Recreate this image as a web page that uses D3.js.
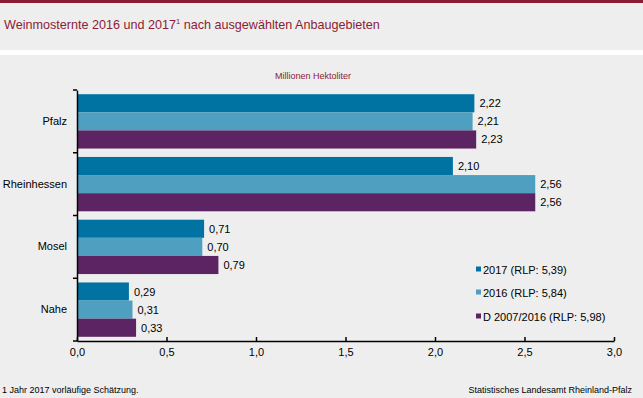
<!DOCTYPE html>
<html><head><meta charset="utf-8">
<script src="https://cdn.jsdelivr.net/npm/d3@7"></script>
<style>
html,body{margin:0;padding:0;background:#edeeed;}
svg{display:block;font-family:"Liberation Sans",Arial,sans-serif;}
</style></head>
<body>
<svg id="c" width="643" height="398"></svg>
<script>
const categories = ["Pfalz", "Rheinhessen", "Mosel", "Nahe"];
const seriesNames = ["2017 (RLP: 5,39)", "2016 (RLP: 5,84)", "D 2007/2016 (RLP: 5,98)"];
const values2017 = [2.22, 2.10, 0.71, 0.29];
const values2016 = [2.21, 2.56, 0.70, 0.31];
const valuesAvg = [2.23, 2.56, 0.79, 0.33];
const xTicks = [0, 0.5, 1.0, 1.5, 2.0, 2.5, 3.0];
const colors = ["#0073a3", "#4f9fc0", "#5c2462"];

const seriesVals = [values2017, values2016, valuesAvg];
const svg = d3.select("#c");
const fmt = v => d3.format(".2f")(v).replace(".", ",");
const fmt1 = v => d3.format(".1f")(v).replace(".", ",");

// backgrounds
svg.append("rect").attr("x",0).attr("y",0).attr("width",643).attr("height",398).attr("fill","#edeeed");
svg.append("rect").attr("x",0).attr("y",0).attr("width",643).attr("height",3).attr("fill","#8b1c36");
svg.append("rect").attr("x",0).attr("y",50).attr("width",643).attr("height",5).attr("fill","#ffffff");

// title
const t = svg.append("text").attr("x",4).attr("y",29).attr("fill","#8b1c36").attr("font-size",12.6);
t.append("tspan").text("Weinmosternte 2016 und 2017");
t.append("tspan").attr("font-size",7.5).attr("dy",-5).text("1");
t.append("tspan").attr("dy",5).text(" nach ausgewählten Anbaugebieten");

svg.append("text").attr("x",313).attr("y",79).attr("text-anchor","middle")
  .attr("fill","#8b1c36").attr("font-size",9).text("Millionen Hektoliter");

const x = d3.scaleLinear().domain([0,3]).range([77,614]);
const y = d3.scaleBand().domain(categories).range([90,341]).paddingInner(0.134).paddingOuter(0.067);
const yOuter = d3.scaleBand().domain(categories).range([90,341]);
const y1 = d3.scaleBand().domain([0,1,2]).range([0, y.bandwidth()]);

// bars
categories.forEach((c,i) => {
  const g = svg.append("g");
  seriesVals.forEach((vals,s) => {
    g.append("rect").attr("x",x(0)).attr("y",y(c)+y1(s))
      .attr("width",x(vals[i])-x(0)).attr("height",y1.bandwidth()).attr("fill",colors[s]);
    g.append("text").attr("x",x(vals[i])+5).attr("y",y(c)+y1(s)+y1.bandwidth()/2+4)
      .attr("font-size",11).attr("fill","#000").text(fmt(vals[i]));
  });
});

// y axis
const yAxis = d3.axisLeft(yOuter).tickSize(0).tickFormat(d => d);
const ya = svg.append("g").attr("transform","translate(77,0)").call(yAxis);
ya.select(".domain").attr("stroke","#000").attr("stroke-width",1.5);
ya.selectAll("text").attr("x",-10).attr("font-size",11).attr("font-family","Liberation Sans, Arial, sans-serif").attr("fill","#000");
// boundary ticks
const bounds = categories.map(c => yOuter(c)).concat([341]);
ya.selectAll(".bt").data(bounds).enter().append("line")
  .attr("x1",-4).attr("x2",0).attr("y1",d=>d).attr("y2",d=>d).attr("stroke","#000").attr("stroke-width",1.5);

// x axis
const xAxis = d3.axisBottom(x).tickValues(xTicks).tickSize(4).tickSizeOuter(0).tickFormat(fmt1);
const xa = svg.append("g").attr("transform","translate(0,341)").call(xAxis);
xa.select(".domain").attr("stroke","#000").attr("stroke-width",1.5);
xa.selectAll(".tick line").attr("stroke","#000").attr("stroke-width",1.5).attr("y1",0).attr("y2",-4);
xa.selectAll("text").attr("y",7).attr("font-size",11).attr("font-family","Liberation Sans, Arial, sans-serif").attr("fill","#000");

// legend
const ly = [270, 293, 317];
seriesNames.forEach((n,s) => {
  svg.append("rect").attr("x",476).attr("y",ly[s]-3.5).attr("width",5).attr("height",5).attr("fill",colors[s]);
  svg.append("text").attr("x",483).attr("y",ly[s]+4).attr("font-size",11).attr("fill","#000").text(n);
});

// footer
svg.append("text").attr("x",2).attr("y",393).attr("font-size",9).attr("fill","#000").text("1 Jahr 2017 vorläufige Schätzung.");
svg.append("text").attr("x",632).attr("y",393).attr("text-anchor","end").attr("font-size",9).attr("fill","#000").text("Statistisches Landesamt Rheinland-Pfalz");
</script>
</body></html>
